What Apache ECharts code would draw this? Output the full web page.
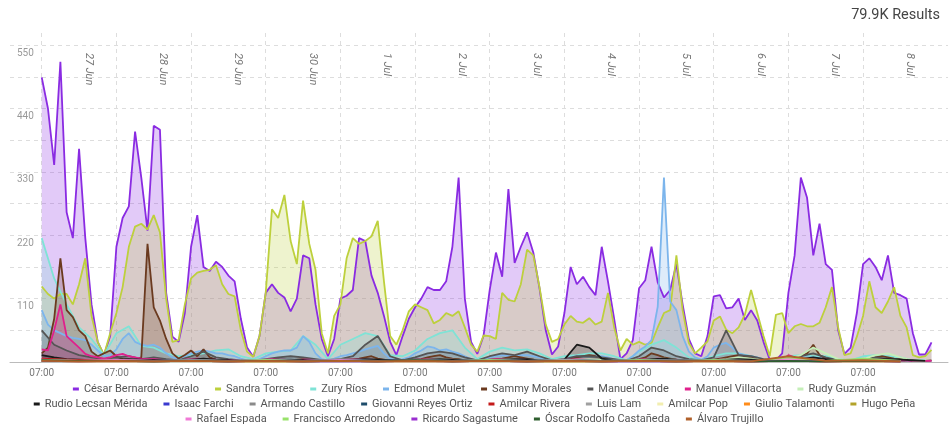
<!DOCTYPE html>
<html>
<head>
<meta charset="utf-8">
<title>Menciones por candidato</title>
<script src="https://cdn.jsdelivr.net/npm/echarts@6/dist/echarts.min.js"></script>
<style>
html, body { margin: 0; padding: 0; background: #fff; }
#chart { width: 949px; height: 425px; }
</style>
</head>
<body>
<div id="chart"></div>
<script>
// x is hours counted from 26 Jun 07:00
const dayTicks = [0, 24, 48, 72, 96, 120, 144, 168, 192, 216, 240, 264];
const dayTickLabel = '07:00';
const dateLabelHours = [15, 39, 63, 87, 111, 135, 159, 183, 207, 231, 255, 279];
const dateLabels = ['27 Jun', '28 Jun', '29 Jun', '30 Jun', '1 Jul', '2 Jul', '3 Jul', '4 Jul', '5 Jul', '6 Jul', '7 Jul', '8 Jul'];
const yLabels = [110, 220, 330, 440, 550];
const totalResults = '79.9K Results';

const candidates = [
  'César Bernardo Arévalo', 'Sandra Torres', 'Zury Ríos', 'Edmond Mulet', 'Sammy Morales',
  'Manuel Conde', 'Manuel Villacorta', 'Rudy Guzmán', 'Rudio Lecsan Mérida', 'Isaac Farchi',
  'Armando Castillo', 'Giovanni Reyes Ortiz', 'Amilcar Rivera', 'Luis Lam', 'Amilcar Pop',
  'Giulio Talamonti', 'Hugo Peña', 'Rafael Espada', 'Francisco Arredondo', 'Ricardo Sagastume',
  'Óscar Rodolfo Castañeda', 'Álvaro Trujillo'
];

// mentions, one value every 2 hours
const arevalo = [
  494, 440, 342, 521, 260, 215, 370, 215, 100, 35, 12, 45,
  200, 250, 270, 400, 320, 228, 410, 403, 120, 44, 35, 85,
  200, 255, 165, 158, 174, 165, 150, 140, 75, 25, 9, 45,
  120, 135, 120, 112, 88, 110, 185, 180, 100, 40, 10, 40,
  110, 115, 125, 215, 210, 150, 120, 80, 35, 12, 45, 75,
  95, 110, 130, 125, 125, 140, 200, 320, 110, 35, 14, 45,
  125, 190, 148, 300, 172, 200, 225, 190, 128, 55, 13, 27,
  85, 165, 135, 148, 130, 116, 200, 140, 75, 5, 15, 38,
  128, 142, 200, 138, 112, 125, 170, 100, 40, 15, 10, 45,
  114, 116, 93, 95, 110, 73, 90, 72, 35, 4, 3, 15,
  120, 185, 320, 285, 185, 240, 170, 160, 55, 14, 25, 85,
  170, 180, 165, 142, 185, 120, 116, 110, 50, 13, 13, 34
];
const torres = [
  131, 118, 110, 118, 118, 100, 135, 180, 80, 35, 12, 50,
  85, 130, 200, 235, 240, 230, 255, 225, 110, 35, 38, 100,
  145, 155, 158, 160, 168, 135, 118, 114, 55, 18, 9, 45,
  120, 265, 250, 290, 210, 170, 280, 205, 160, 50, 15, 80,
  100, 180, 215, 205, 210, 218, 245, 140, 45, 30, 55, 88,
  100, 95, 90, 67, 73, 85, 80, 88, 60, 30, 18, 46,
  45, 40, 120, 108, 105, 135, 195, 185, 130, 65, 35, 40,
  65, 80, 70, 68, 76, 65, 70, 120, 60, 20, 40, 30,
  35, 30, 33, 60, 85, 90, 185, 90, 33, 15, 25, 36,
  72, 79, 56, 50, 60, 82, 125, 85, 45, 10, 82, 85,
  50, 62, 66, 62, 62, 68, 95, 130, 60, 12, 15, 44,
  80, 140, 95, 85, 105, 130, 80, 60, 12, 8, 10, 21
];
const mulet = [
  90, 65, 55, 50, 45, 42, 40, 38, 30, 20, 10, 12,
  22, 40, 50, 35, 30, 28, 30, 25, 15, 8, 6, 10,
  15, 18, 20, 18, 15, 15, 12, 10, 6, 3, 2, 5,
  10, 15, 18, 20, 20, 25, 45, 35, 15, 5, 3, 6,
  10, 12, 15, 18, 22, 25, 28, 15, 6, 3, 5, 8,
  15, 20, 27, 25, 20, 22, 18, 15, 10, 5, 3, 5,
  8, 10, 12, 10, 10, 12, 12, 10, 8, 4, 2, 3,
  5, 8, 10, 10, 10, 10, 10, 8, 5, 2, 3, 10,
  20, 27, 38, 96, 320, 105, 90, 45, 18, 8, 4, 10,
  25, 30, 33, 25, 15, 12, 10, 8, 4, 2, 2, 3,
  5, 8, 8, 8, 8, 7, 6, 5, 3, 2, 2, 3,
  5, 6, 6, 5, 5, 5, 4, 3, 2, 2, 2, 2
];
const morales = [
  15, 25, 75, 180, 90, 78, 55, 45, 18, 10, 15, 20,
  10, 5, 4, 3, 8, 205, 95, 72, 40, 15, 6, 12,
  20, 10, 22, 8, 4, 3, 3, 2, 2, 2, 2, 2,
  3, 4, 4, 3, 3, 4, 5, 4, 3, 2, 2, 2,
  3, 4, 5, 6, 8, 10, 6, 4, 2, 2, 2, 3,
  4, 5, 8, 10, 12, 8, 6, 5, 3, 2, 2, 3,
  4, 5, 6, 8, 10, 8, 6, 4, 2, 2, 2, 3,
  4, 5, 8, 10, 12, 10, 6, 4, 2, 2, 2, 3,
  5, 8, 15, 12, 8, 6, 4, 3, 2, 2, 2, 3,
  4, 6, 8, 10, 12, 10, 8, 5, 3, 2, 2, 3,
  5, 6, 10, 15, 30, 12, 6, 4, 2, 2, 2, 3,
  4, 5, 8, 10, 8, 6, 5, 4, 3, 2, 2, 3
];
const villacorta = [
  22, 20, 55, 100, 45, 35, 25, 14, 10, 8, 6, 8,
  12, 14, 10, 8, 6, 5, 5, 4, 3, 3, 3, 4,
  5, 6, 5, 4, 4, 3, 3, 3, 2, 2, 2, 3,
  4, 5, 4, 4, 3, 3, 4, 4, 3, 2, 2, 3,
  3, 4, 5, 5, 4, 4, 3, 3, 2, 2, 2, 3,
  4, 4, 5, 5, 4, 4, 4, 3, 2, 2, 2, 3,
  4, 5, 5, 4, 4, 5, 4, 3, 2, 2, 2, 3,
  4, 4, 5, 5, 4, 4, 3, 3, 2, 2, 2, 3,
  4, 5, 5, 6, 5, 4, 4, 3, 2, 2, 2, 3,
  3, 4, 4, 4, 3, 3, 3, 3, 2, 2, 2, 3,
  12, 8, 6, 5, 4, 4, 4, 3, 2, 2, 2, 3,
  4, 4, 4, 4, 3, 3, 3, 3, 2, 2, 2, 2
];

// mentions, one value every 4 hours
const rios = [
  215, 145, 100, 60, 40, 12, 50, 62, 28, 25, 15, 10,
  12, 15, 20, 22, 10, 5, 15, 18, 20, 45, 30, 5,
  30, 40, 50, 45, 12, 10, 20, 40, 50, 55, 25, 5,
  18, 25, 20, 22, 15, 5, 10, 12, 15, 15, 10, 3,
  18, 30, 38, 25, 8, 3, 10, 15, 15, 10, 5, 3,
  10, 12, 10, 10, 5, 3, 10, 12, 10, 8, 3, 3
];
const conde = [
  55, 30, 20, 12, 8, 5, 8, 10, 5, 8, 5, 3,
  10, 18, 8, 5, 3, 2, 5, 8, 10, 8, 5, 2,
  5, 10, 30, 45, 10, 3, 8, 15, 18, 15, 8, 3,
  10, 15, 12, 18, 10, 3, 5, 10, 10, 8, 5, 2,
  10, 25, 20, 10, 5, 3, 8, 55, 12, 10, 5, 2,
  5, 10, 15, 8, 3, 2, 5, 8, 6, 5, 2, 2
];
const merida = [
  12, 8, 5, 4, 3, 2, 4, 5, 4, 3, 3, 2,
  4, 6, 4, 3, 2, 2, 3, 4, 4, 3, 2, 2,
  3, 4, 5, 4, 3, 2, 3, 4, 5, 4, 3, 2,
  3, 4, 5, 5, 3, 2, 4, 30, 25, 6, 3, 2,
  3, 5, 6, 4, 3, 2, 3, 4, 5, 4, 3, 2,
  3, 5, 8, 5, 3, 2, 3, 4, 5, 4, 3, 2
];
const guzman = [
  3, 3, 2, 2, 2, 2, 3, 3, 2, 2, 2, 2,
  3, 3, 3, 2, 2, 2, 3, 3, 3, 2, 2, 2,
  3, 4, 4, 3, 2, 2, 3, 4, 5, 4, 3, 2,
  3, 4, 5, 4, 3, 2, 3, 4, 5, 4, 3, 2,
  3, 5, 6, 4, 3, 2, 3, 5, 8, 6, 3, 2,
  5, 12, 25, 15, 5, 2, 5, 12, 15, 8, 3, 2
];

// mentions, one value every 12 hours
const farchi = [3, 2, 2, 1, 2, 1, 3, 1, 2, 1, 2, 2, 2, 1, 3, 1, 2, 1, 2, 1, 2, 1, 2, 1];
const castillo = [5, 3, 4, 2, 4, 2, 3, 2, 5, 2, 3, 2, 4, 2, 3, 2, 4, 3, 3, 2, 3, 2, 3, 2];
const reyesOrtiz = [4, 2, 3, 2, 3, 1, 3, 2, 3, 2, 4, 2, 3, 2, 4, 2, 3, 2, 3, 1, 3, 2, 2, 2];
const rivera = [6, 3, 3, 2, 2, 1, 2, 1, 2, 1, 3, 1, 2, 1, 2, 1, 2, 1, 2, 1, 3, 1, 2, 1];
const lam = [3, 2, 3, 2, 3, 2, 4, 2, 3, 1, 3, 2, 3, 2, 4, 2, 3, 2, 3, 2, 4, 2, 3, 2];
const pop = [2, 1, 2, 1, 1, 1, 2, 1, 2, 1, 2, 1, 1, 1, 2, 1, 2, 1, 2, 1, 3, 1, 2, 1];
const talamonti = [2, 1, 1, 1, 2, 1, 1, 1, 2, 1, 1, 1, 2, 1, 1, 1, 2, 1, 1, 1, 2, 1, 1, 1];
const pena = [2, 1, 2, 1, 2, 1, 1, 1, 2, 1, 2, 1, 2, 1, 1, 1, 2, 1, 2, 1, 2, 1, 2, 1];
const espada = [4, 2, 3, 2, 2, 1, 2, 1, 3, 1, 2, 1, 2, 1, 2, 1, 2, 1, 2, 1, 6, 2, 2, 1];
const arredondo = [3, 2, 2, 1, 2, 1, 3, 1, 2, 1, 2, 1, 3, 1, 2, 1, 3, 1, 3, 1, 8, 2, 6, 2];
const sagastume = [2, 1, 2, 1, 2, 1, 2, 1, 1, 1, 2, 1, 2, 1, 2, 1, 1, 1, 2, 1, 2, 1, 2, 1];
const castaneda = [3, 2, 2, 1, 2, 1, 2, 1, 2, 1, 3, 1, 2, 1, 2, 1, 2, 1, 2, 1, 2, 1, 2, 1];
const trujillo = [2, 1, 2, 1, 2, 1, 2, 1, 2, 1, 2, 1, 2, 1, 2, 1, 2, 1, 2, 1, 10, 2, 3, 1];

const seriesValues = [
  arevalo, torres, rios, mulet, morales, conde, villacorta, guzman, merida, farchi,
  castillo, reyesOrtiz, rivera, lam, pop, talamonti, pena, espada, arredondo, sagastume,
  castaneda, trujillo
];
const sampleHours = [2, 2, 4, 2, 2, 4, 2, 4, 4, 12, 12, 12, 12, 12, 12, 12, 12, 12, 12, 12, 12, 12];

const colors = [
  '#8a2be2', '#bdd03c', '#7fe3d6', '#7cb5ec', '#6b3a1f', '#555555', '#e0208c', '#c5efb8',
  '#1a1a1a', '#3a3acf', '#8a8a8a', '#1e4d6b', '#c41a1a', '#a0a0a0', '#f2eeb0', '#ff8c1a',
  '#b3a32a', '#f07ad6', '#98e26a', '#9a2fd0', '#2e5e2e', '#b0602a'
];

const legendRows = [candidates.slice(0, 8), candidates.slice(8, 17), candidates.slice(17)];

const chart = echarts.init(document.getElementById('chart'));

const xMin = -10.2;
const xMax = 291.3;

const option = {
  animation: false,
  color: colors,
  textStyle: { fontFamily: 'Roboto' },
  graphic: [{
    type: 'text',
    right: 9,
    top: 8,
    style: { text: totalResults, fill: '#444', font: '14.5px Roboto' }
  }],
  legend: legendRows.map((row, i) => ({
    data: row,
    left: 'center',
    top: 383.5 + i * 15,
    padding: 0,
    icon: 'rect',
    itemWidth: 6,
    itemHeight: 3,
    itemGap: 16,
    textStyle: { color: '#555', fontSize: 11 }
  })),
  grid: { left: 10, right: 1, top: 33, bottom: 63 },
  xAxis: [
    {
      type: 'value',
      min: xMin,
      max: xMax,
      axisLine: { lineStyle: { color: '#bbb' } },
      axisTick: { show: false, customValues: dayTicks },
      axisLabel: {
        customValues: dayTicks,
        formatter: () => dayTickLabel,
        color: '#777',
        fontSize: 10,
        margin: 6
      },
      splitLine: { show: true, lineStyle: { color: '#ddd', type: [4, 4] } }
    },
    {
      type: 'value',
      position: 'top',
      min: xMin,
      max: xMax,
      axisLine: { show: false },
      axisTick: { show: false, customValues: dateLabelHours },
      splitLine: { show: false },
      axisLabel: {
        customValues: dateLabelHours,
        inside: true,
        rotate: 90,
        margin: 20,
        color: '#777',
        fontSize: 11,
        fontStyle: 'italic',
        formatter: v => dateLabels[dateLabelHours.indexOf(v)]
      }
    }
  ],
  yAxis: {
    type: 'value',
    min: 0,
    max: 571,
    interval: 55,
    axisLine: { show: false },
    axisTick: { show: false },
    splitLine: { showMaxLine: false, lineStyle: { color: '#ddd', type: [4, 4] } },
    axisLabel: {
      inside: true,
      margin: 7,
      color: '#999',
      fontSize: 10,
      verticalAlign: 'top',
      padding: [3, 0, 0, 0],
      formatter: v => (yLabels.indexOf(v) >= 0 ? String(v) : '')
    }
  },
  series: candidates.map((name, i) => ({
    name,
    type: 'line',
    xAxisIndex: 0,
    data: seriesValues[i].map((v, k) => [k * sampleHours[i], v]),
    showSymbol: false,
    symbol: 'none',
    lineStyle: { width: 1.8 },
    areaStyle: { opacity: 0.25 },
    emphasis: { disabled: true }
  }))
};

chart.setOption(option);
</script>
</body>
</html>
